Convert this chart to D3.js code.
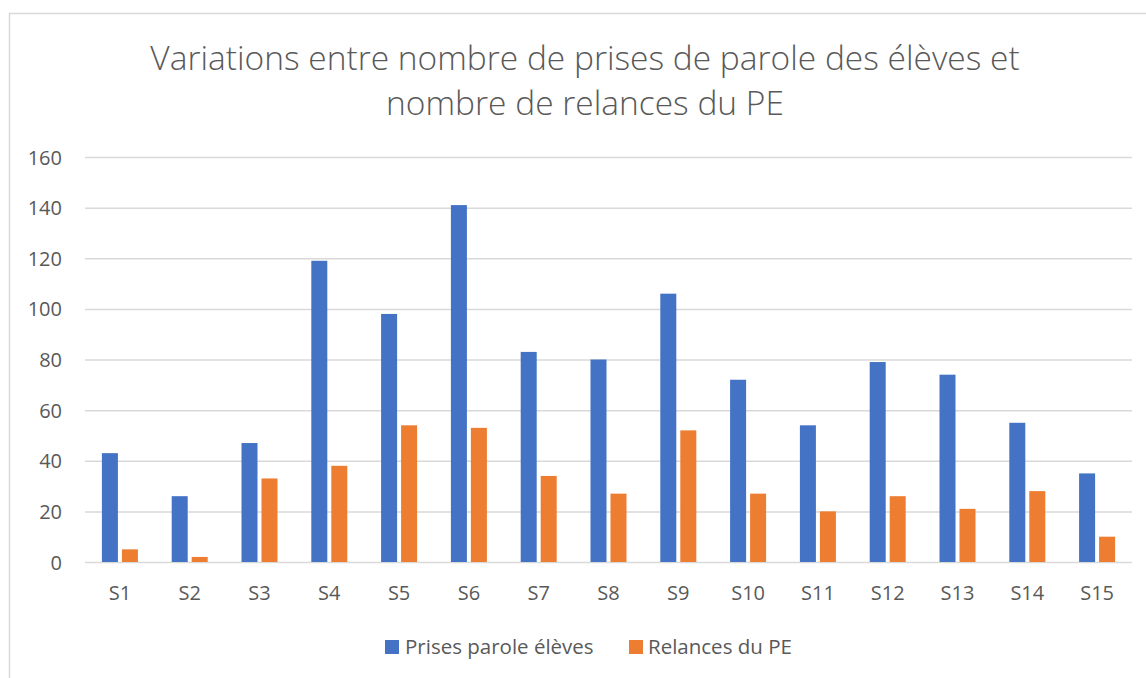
<!DOCTYPE html>
<html><head><meta charset="utf-8">
<script src="https://cdn.jsdelivr.net/npm/d3@7"></script>
<style>body{margin:0;background:#fff;} svg{display:block;} text{font-family:"Open Sans","Noto Sans",sans-serif;fill:#595959;}</style>
</head><body>
<script>
const categories = ["S1","S2","S3","S4","S5","S6","S7","S8","S9","S10","S11","S12","S13","S14","S15"];
const prisesParole = [43,26,47,119,98,141,83,80,106,72,54,79,74,55,35];
const relances = [5,2,33,38,54,53,34,27,52,27,20,26,21,28,10];
const seriesNames = ["Prises parole élèves","Relances du PE"];
const colors = ["#4472C4","#ED7D31"];
const yTicks = [0,20,40,60,80,100,120,140,160];
const titleLines = ["Variations entre nombre de prises de parole des élèves et","nombre de relances du PE"];

(function(){
const W=1146,H=678;
const svg=d3.select("body").append("svg").attr("width",W).attr("height",H);
svg.append("rect").attr("x",9.5).attr("y",13.5).attr("width",W).attr("height",H).attr("fill","none").attr("stroke","#d9d9d9").attr("stroke-width",1.5);

const pLeft=85,pRight=1132,pTop=157,pBottom=562;
const x=d3.scaleBand().domain(categories).range([pLeft,pRight]).paddingInner(0).paddingOuter(0);
const y=d3.scaleLinear().domain([0,160]).range([pBottom,pTop]);
const barW=16,gap=4;

const title=svg.append("text").attr("x",585).attr("text-anchor","middle").style("font-size","33.5px").style("font-weight","300");
titleLines.forEach((l,i)=>title.append("tspan").attr("x",585).attr("y",70+i*45).text(l));

const yAxis=d3.axisLeft(y).tickValues(yTicks).tickSize(-(pRight-pLeft)).tickPadding(0);
const gy=svg.append("g").attr("transform",`translate(${pLeft},0)`).call(yAxis);
gy.select(".domain").remove();
gy.selectAll("line").attr("stroke","#d9d9d9").attr("stroke-width",1.5);
gy.selectAll("text").attr("x",-23).attr("dy","0.35em").style("font-size","20px").style("fill","#595959");

const data=categories.map((c,i)=>({c,v:[prisesParole[i],relances[i]]}));
const g=svg.append("g");
data.forEach(d=>{
  const cx=x(d.c)+x.bandwidth()/2;
  d.v.forEach((v,k)=>{
    const bx = k===0 ? cx-gap/2-barW : cx+gap/2;
    g.append("rect").attr("x",bx).attr("y",y(v)).attr("width",barW).attr("height",y(0)-y(v)).attr("fill",colors[k]);
  });
});

const xAxis=d3.axisBottom(x).tickSize(0).tickPadding(0);
const gx=svg.append("g").attr("transform",`translate(0,${pBottom})`).call(xAxis);
gx.select(".domain").remove();
gx.selectAll("text").attr("y",38).attr("dy",0).style("font-size","20px").style("fill","#595959");

const legendItems=[{x:385,tx:405},{x:629,tx:648}];
seriesNames.forEach((n,i)=>{
  svg.append("rect").attr("x",legendItems[i].x).attr("y",640).attr("width",14).attr("height",14).attr("fill",colors[i]);
  svg.append("text").attr("x",legendItems[i].tx).attr("y",654).style("font-size","20.5px").text(n);
});
})();
</script>
</body></html>
